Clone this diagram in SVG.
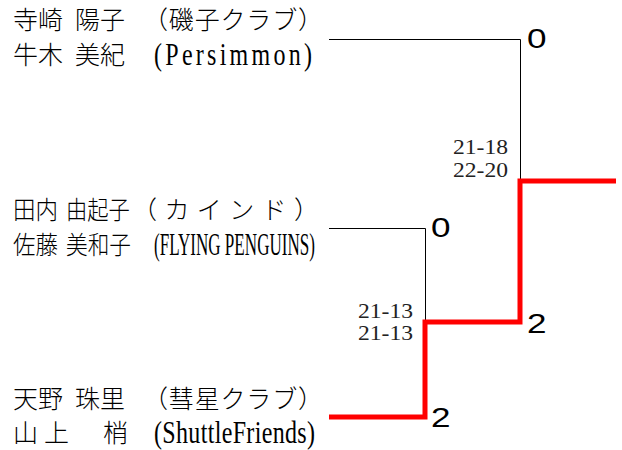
<svg xmlns="http://www.w3.org/2000/svg" width="622" height="450" viewBox="0 0 622 450">
<style>
.jp{font-family:"Noto Sans CJK JP","Liberation Serif",serif;font-size:25px;font-weight:300;fill:#000}
.la{font-family:"Liberation Serif","Noto Sans CJK JP",serif;font-size:24px;fill:#000}
.sc{font-family:"Liberation Serif",serif;font-size:21px;fill:#222}
.pt{font-family:"Liberation Sans",Arial,sans-serif;font-size:27px;fill:#000}
.ln{fill:none;stroke:#000;stroke-width:1}
.win{fill:none;stroke:#ff0000;stroke-width:5;stroke-linejoin:miter;stroke-linecap:butt}
</style>
<rect width="622" height="450" fill="#fff"/>
<g id="connectors">
<path class="ln" d="M329,39.5 H520.5 V181"/>
<path class="ln" d="M329,228.5 H425.5 V322"/>
<path class="win" d="M329,417 H425 V322 H520 V181 H616"/>
</g>
<g id="team1">
<text class="jp" y="29"><tspan x="13">寺崎</tspan><tspan x="75">陽子</tspan></text>
<text class="jp" x="143" y="29" textLength="180" lengthAdjust="spacing">（磯子クラブ）</text>
<text class="jp" y="64"><tspan x="13">牛木</tspan><tspan x="75">美紀</tspan></text>
<text class="la" transform="translate(154,65) scale(1,1.3)" textLength="158" lengthAdjust="spacing">(Persimmon)</text>
</g>
<g id="team2">
<text class="jp" transform="translate(13,219) scale(0.9,1)">田内</text>
<text class="jp" transform="translate(66,219) scale(0.853,1)">由起子</text>
<text class="jp" x="132" y="219" textLength="187" lengthAdjust="spacing">（カインド）</text>
<text class="jp" transform="translate(13,254) scale(0.9,1)">佐藤</text>
<text class="jp" transform="translate(66,254) scale(0.867,1)">美和子</text>
<text class="la" transform="translate(154,255) scale(1,1.3)" textLength="161" lengthAdjust="spacingAndGlyphs">(FLYING PENGUINS)</text>
</g>
<g id="team3">
<text class="jp" y="408"><tspan x="13">天野</tspan><tspan x="75">珠里</tspan></text>
<text class="jp" x="143" y="408" textLength="180" lengthAdjust="spacing">（彗星クラブ）</text>
<text class="jp" y="442"><tspan x="13">山</tspan><tspan x="44">上</tspan><tspan x="103">梢</tspan></text>
<text class="la" transform="translate(154,443) scale(1,1.3)" textLength="161" lengthAdjust="spacing">(ShuttleFriends)</text>
</g>
<g id="match1">
<text class="sc" x="453" y="154" textLength="55" lengthAdjust="spacingAndGlyphs">21-18</text>
<text class="sc" x="453" y="177" textLength="55" lengthAdjust="spacingAndGlyphs">22-20</text>
<text class="pt" transform="translate(527,48) scale(1.3,1)">0</text>
<text class="pt" transform="translate(527,333) scale(1.3,1)">2</text>
</g>
<g id="match2">
<text class="sc" x="358" y="318" textLength="55" lengthAdjust="spacingAndGlyphs">21-13</text>
<text class="sc" x="358" y="340" textLength="55" lengthAdjust="spacingAndGlyphs">21-13</text>
<text class="pt" transform="translate(431,237) scale(1.3,1)">0</text>
<text class="pt" transform="translate(431,427) scale(1.3,1)">2</text>
</g>
</svg>
